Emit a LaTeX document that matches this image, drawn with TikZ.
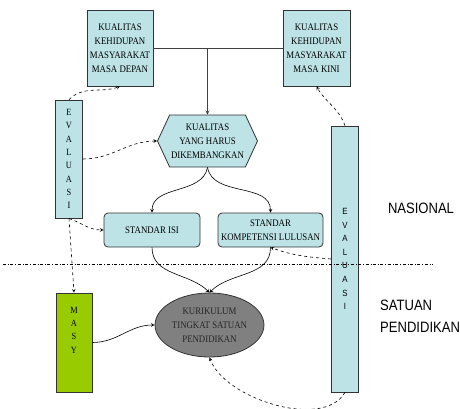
\documentclass[tikz,border=0pt]{standalone}
\usepackage{fontspec}
\setmainfont{Liberation Serif}
\newfontfamily\boxfont[FakeStretch=0.88]{Liberation Serif}
\newfontfamily\labelfont[FakeStretch=0.87]{Liberation Sans}
\usetikzlibrary{shapes.geometric,shapes.symbols}
\definecolor{boxcyan}{HTML}{BDE3E6}
\definecolor{masygreen}{HTML}{99CC00}
\definecolor{ktspgray}{HTML}{808080}
\tikzset{
    box/.style={draw=black!80, fill=boxcyan, line width=0.8pt, align=center, inner sep=1pt,
        font=\boxfont\fontsize{10}{14}\selectfont},
    vtext/.style={align=center, inner sep=0pt},
    conn/.style={-stealth, line width=0.6pt},
    evalarrow/.style={-stealth, dashed, line width=0.6pt},
}
\begin{document}
\begin{tikzpicture}[x=1pt,y=1pt]
    \useasboundingbox (0,0) rectangle (460,-409);

    \node[box, minimum width=66, minimum height=76] (A) at (120,-48) {KUALITAS\\KEHIDUPAN\\MASYARAKAT\\MASA DEPAN};
    \node[box, minimum width=67, minimum height=76] (B) at (316.5,-48) {KUALITAS\\KEHIDUPAN\\MASYARAKAT\\MASA KINI};

    \node[box, signal, signal to=west and east, signal pointer angle=130,
          minimum width=100, minimum height=52] (C) at (207.5,-141) {KUALITAS\\YANG HARUS\\DIKEMBANGKAN};

    \node[box, minimum width=27, minimum height=118, font=\boxfont\fontsize{9.5}{13.3}\selectfont] (D) at (69,-159) {E\\V\\A\\L\\U\\A\\S\\I};

    \node[box, rounded corners=4, minimum width=96, minimum height=34] (E) at (152,-230) {STANDAR ISI};
    \node[box, rounded corners=4, minimum width=105, minimum height=34] (F) at (270.5,-230) {STANDAR\\KOMPETENSI LULUSAN};

    \node[box, ellipse, fill=ktspgray, text=black!85, minimum width=96, minimum height=64] (G) at (209.5,-325) {KURIKULUM\\TINGKAT SATUAN\\PENDIDIKAN};

    \node[box, minimum width=27, minimum height=266, font=\labelfont\fontsize{9}{13.6}\selectfont] (H) at (345,-259) {E\\V\\A\\L\\U\\A\\S\\I};

    \node[box, fill=masygreen, minimum width=36, minimum height=99] (M) at (74,-342.5) {};
    \node[vtext, font=\boxfont\fontsize{9.5}{13.3}\selectfont] (MT) at (74,-330) {M\\A\\S\\Y};

    \node[font=\labelfont\fontsize{15}{18}\selectfont] (N) at (421,-208) {NASIONAL};
    \node[anchor=west, align=left, inner sep=0pt, font=\labelfont\fontsize{15}{21.7}\selectfont] (S) at (380,-316) {SATUAN\\PENDIDIKAN};

    % garis pemisah nasional / satuan pendidikan
    \draw[dash dot, line width=0.5pt] (3,-264) -- (433,-264);

    \coordinate (J) at (207.5,-48);
    \draw[line width=0.8pt, black!75] (A.east) -- (B.west);
    \draw[conn, black!75, line width=0.8pt] (J) -- (C.north);

    \draw[conn] (C.south) to[out=-100,in=90] (E.north);
    \draw[conn] (C.south) to[out=-80,in=90] (F.north);
    \draw[conn] (E.south) to[out=-90,in=135] (G.north);
    \draw[conn] (F.south) to[out=-90,in=45] (G.north);
    \draw[conn] (M.east) to[out=0,in=180] (G.west);

    \draw[evalarrow] (D.north) to[out=45,in=-160] (A.south);
    \draw[evalarrow] (D.east) to[out=0,in=180] (C.west);
    \draw[evalarrow] (D.south) to[out=-20,in=180] (E.west);
    \draw[evalarrow] (D.south) -- (M.north);
    \draw[evalarrow] (H.north) to[out=110,in=-60] (B.south);
    \draw[evalarrow] (H.west) to[out=175,in=-20] (F.south);
    \draw[evalarrow] (H.south) to[out=-120,in=-70, looseness=0.8] (G.south);
\end{tikzpicture}
\end{document}
